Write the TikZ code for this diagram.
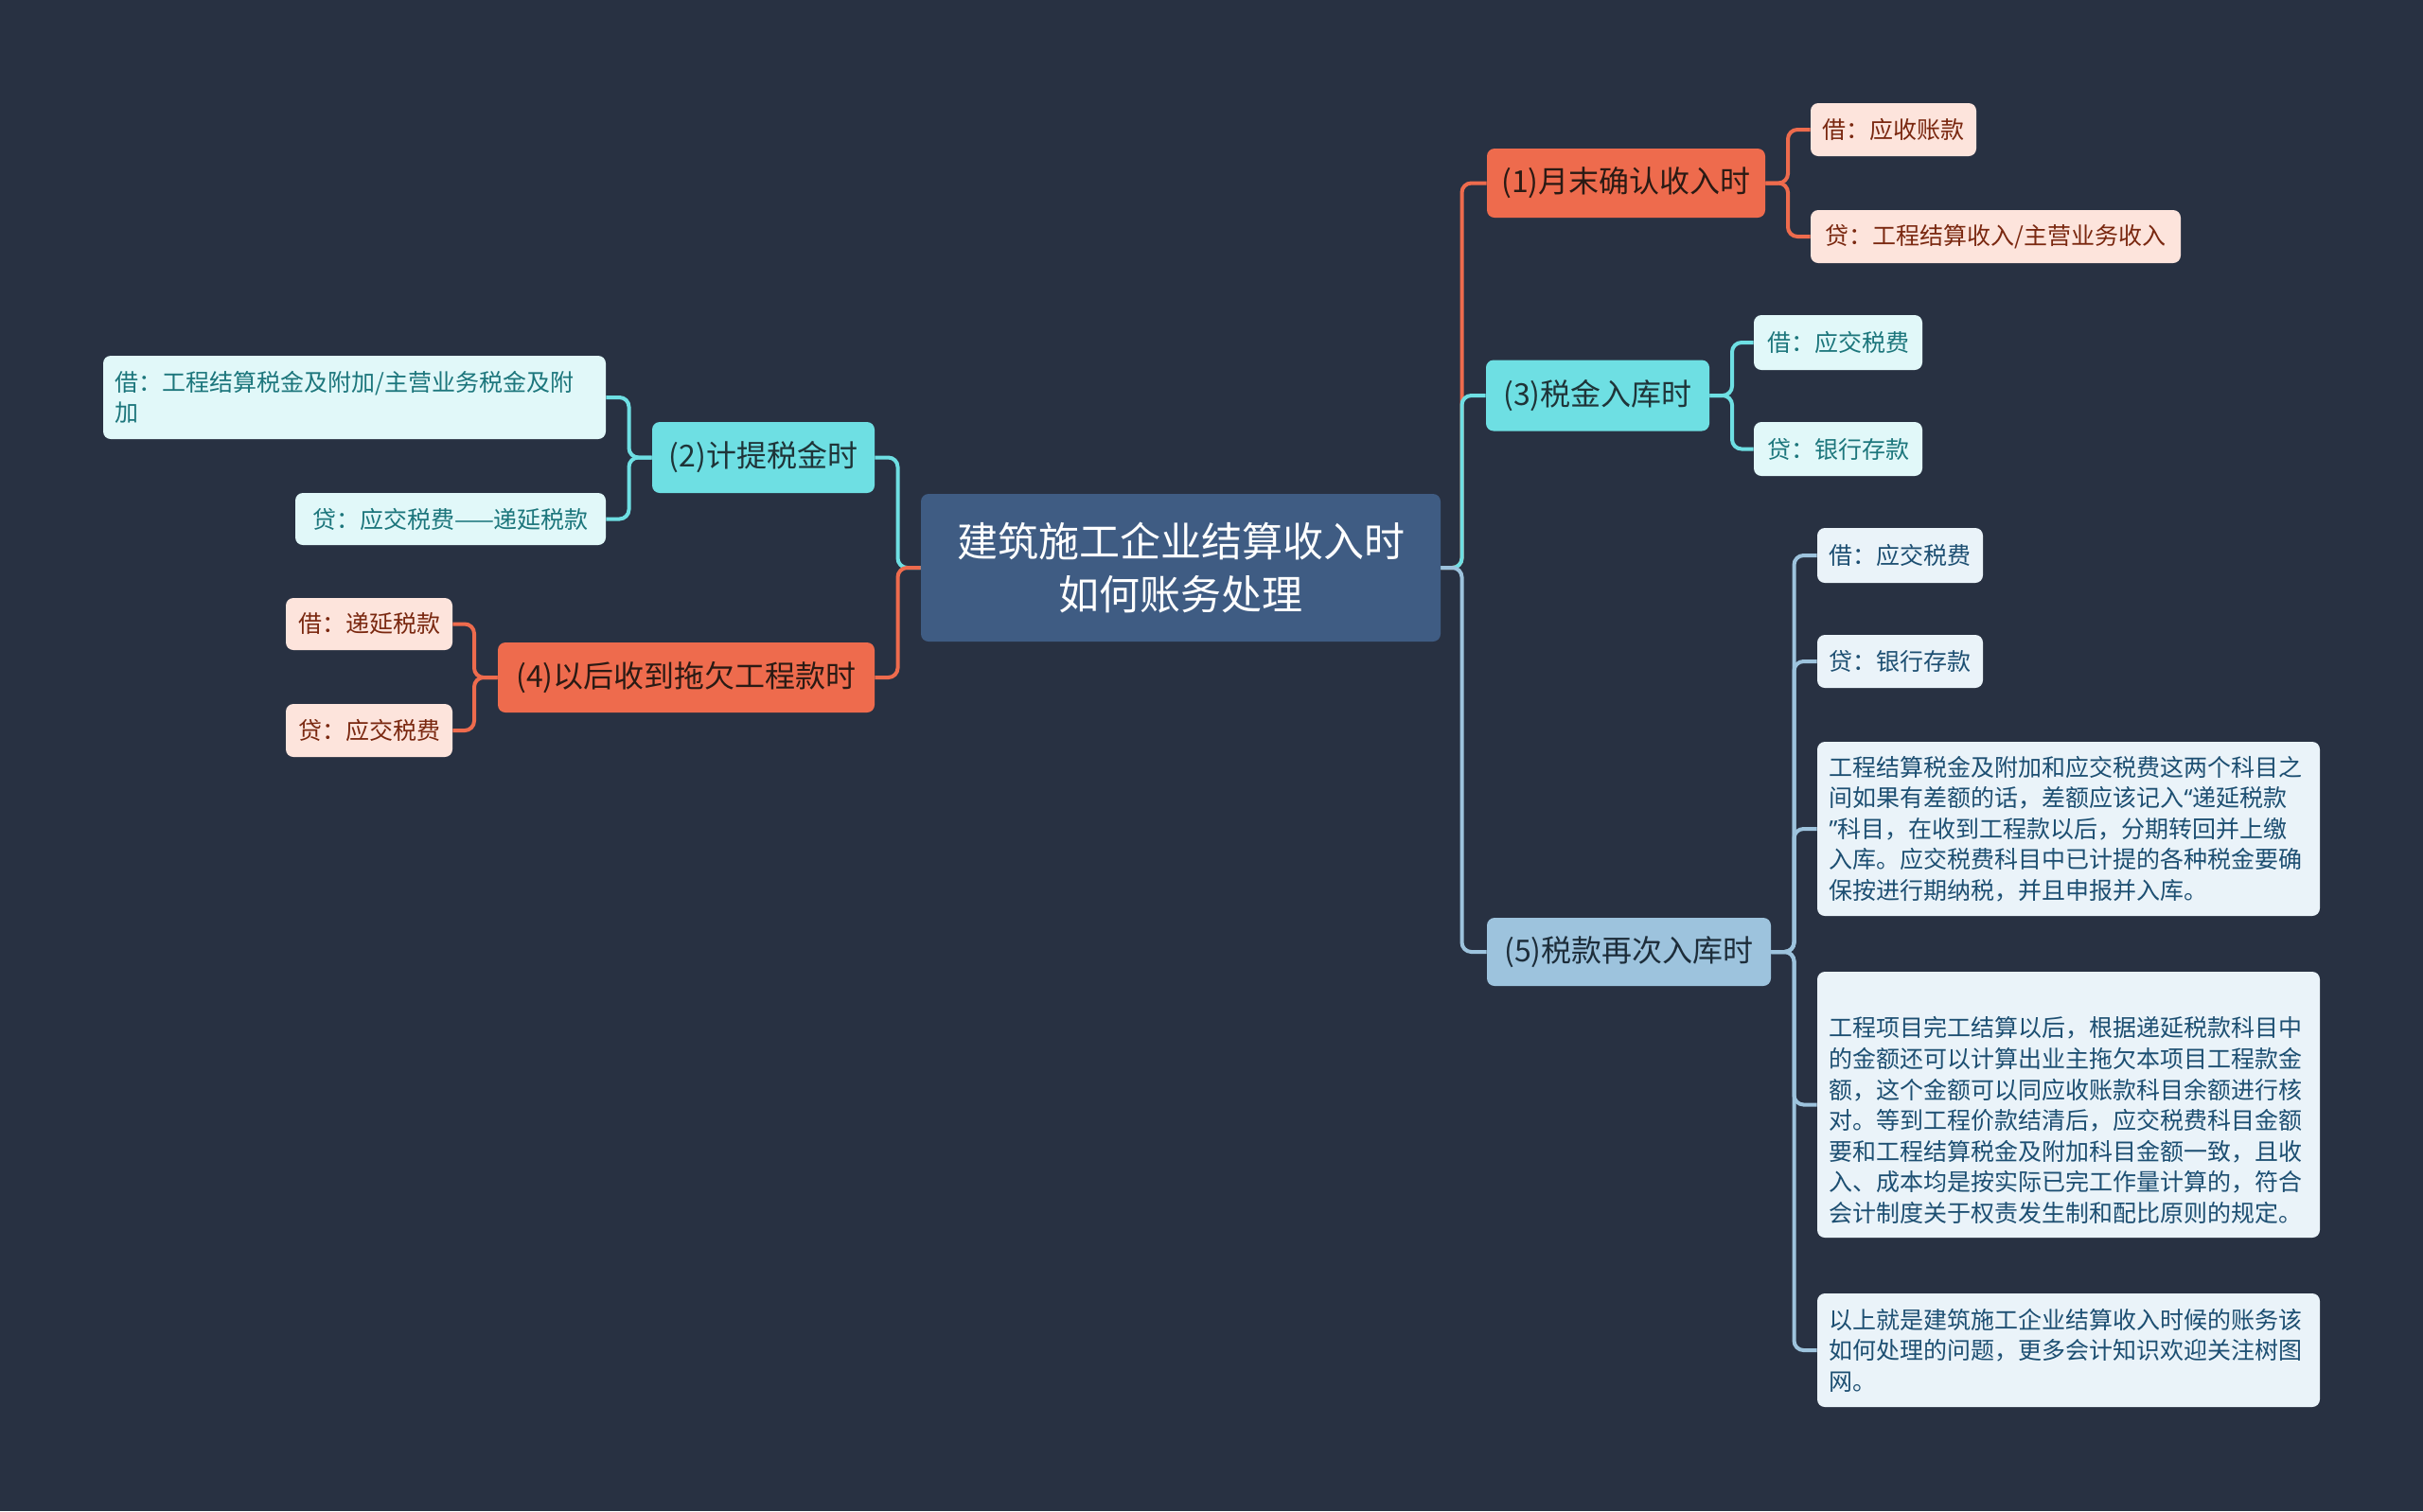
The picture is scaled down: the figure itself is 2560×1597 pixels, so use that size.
\documentclass[tikz,border=0pt]{standalone}
\usepackage{fontspec}
\setmainfont{Noto Sans CJK SC}
\newfontfamily\latinq{Noto Sans}
\definecolor{bgc}{HTML}{283142}
\definecolor{rootc}{HTML}{3F5C83}
\definecolor{coral}{HTML}{EE6B4D}
\definecolor{cyanc}{HTML}{6EDFE3}
\definecolor{bluec}{HTML}{9DC3DD}
\definecolor{coralleaf}{HTML}{FDE4DC}
\definecolor{cyanleaf}{HTML}{E1F8F9}
\definecolor{blueleaf}{HTML}{EAF3F9}
\definecolor{coraltxt}{HTML}{7A2810}
\definecolor{cyantxt}{HTML}{1C767C}
\definecolor{bluetxt}{HTML}{1D4F72}
\definecolor{darktxt}{HTML}{2A1A14}
\definecolor{darkcyantxt}{HTML}{1F3438}
\definecolor{darkbluetxt}{HTML}{1D2D3A}
\tikzset{
  box/.style={rounded corners=4pt, inner sep=0pt, anchor=center},
  rootbox/.style={box, fill=rootc, text=white, align=center,
    font=\fontsize{21.5}{27.8}\selectfont},
  lvlone/.style={box, font=\fontsize{16}{20}\selectfont},
  lvlcoral/.style={lvlone, fill=coral, text=darktxt},
  lvlcyan/.style={lvlone, fill=cyanc, text=darkcyantxt},
  lvlblue/.style={lvlone, fill=bluec, text=darkbluetxt},
  leaf/.style={box, minimum height=28pt, font=\fontsize{12.5}{16.3}\selectfont},
  leafcoral/.style={leaf, fill=coralleaf, text=coraltxt},
  leafcyan/.style={leaf, fill=cyanleaf, text=cyantxt},
  leafblue/.style={leaf, fill=blueleaf, text=bluetxt},
  longtext/.style={text width=253pt, align=left},
  conn/.style={line width=2pt, rounded corners=5pt},
}
\begin{document}
\begin{tikzpicture}[x=0.5pt,y=-0.5pt]
\fill[bgc] (0,0) rectangle (2560,1597);
\path[use as bounding box] (0,0) rectangle (2560,1597);

% root
\node[rootbox, minimum width=274.5pt, minimum height=78pt] (root) at (1247.5,600)
  {建筑施工企业结算收入时\\如何账务处理};

% level one
\node[lvlcoral, minimum width=147pt, minimum height=36.5pt] (n1) at (1718,193.5) {(1)月末确认收入时};
\node[lvlcyan, minimum width=118pt, minimum height=37.5pt] (n3) at (1688,418) {(3)税金入库时};
\node[lvlblue, minimum width=150pt, minimum height=36pt] (n5) at (1721,1006) {(5)税款再次入库时};
\node[lvlcyan, minimum width=117.5pt, minimum height=37.5pt] (n2) at (806.5,483.5) {(2)计提税金时};
\node[lvlcoral, minimum width=199pt, minimum height=37pt] (n4) at (725,716) {(4)以后收到拖欠工程款时};

% leaves of (1)
\node[leafcoral, minimum width=87.5pt] (n1a) at (2000.5,137) {借：应收账款};
\node[leafcoral, minimum width=195.5pt] (n1b) at (2108.5,250) {贷：工程结算收入/主营业务收入};

% leaves of (3)
\node[leafcyan, minimum width=89pt, minimum height=29pt] (n3a) at (1942,362) {借：应交税费};
\node[leafcyan, minimum width=89pt, minimum height=28.5pt] (n3b) at (1942,474.5) {贷：银行存款};

% leaves of (5)
\node[leafblue, minimum width=87.5pt, minimum height=29pt] (n5a) at (2007.5,587) {借：应交税费};
\node[leafblue, minimum width=87.5pt] (n5b) at (2007.5,699) {贷：银行存款};
\node[leafblue, longtext, minimum width=265.5pt, minimum height=92pt] (n5c) at (2185.5,876)
  {工程结算税金及附加和应交税费这两个科目之\\间如果有差额的话，差额应该记入{\latinq “}递延税款\\{\latinq ”}科目，在收到工程款以后，分期转回并上缴\\入库。应交税费科目中已计提的各种税金要确\\保按进行期纳税，并且申报并入库。};
\node[leafblue, longtext, minimum width=265.5pt, minimum height=140.5pt] (n5d) at (2185.5,1167.5)
  {\mbox{}\\[11pt]工程项目完工结算以后，根据递延税款科目中\\的金额还可以计算出业主拖欠本项目工程款金\\额，这个金额可以同应收账款科目余额进行核\\对。等到工程价款结清后，应交税费科目金额\\要和工程结算税金及附加科目金额一致，且收\\入、成本均是按实际已完工作量计算的，符合\\会计制度关于权责发生制和配比原则的规定。};
\node[leafblue, longtext, minimum width=265.5pt, minimum height=60pt] (n5e) at (2185.5,1427)
  {以上就是建筑施工企业结算收入时候的账务该\\如何处理的问题，更多会计知识欢迎关注树图\\网。};

% leaves of (2)
\node[leafcyan, longtext, minimum width=265.5pt, minimum height=44pt] (n2a) at (374.5,420)
  {借：工程结算税金及附加/主营业务税金及附\\加};
\node[leafcyan, minimum width=164pt, minimum height=27.5pt] (n2b) at (476,548.5) {贷：应交税费——递延税款};

% leaves of (4)
\node[leafcoral, minimum width=88pt, minimum height=27.5pt] (n4a) at (390,659.5) {借：递延税款};
\node[leafcoral, minimum width=88pt] (n4b) at (390,772) {贷：应交税费};

% connectors root -> right
\draw[conn, coral] (root.east) -- (1544.5,600) |- (n1.west);
\draw[conn, cyanc] (root.east) -- (1544.5,600) |- (n3.west);
\draw[conn, bluec] (root.east) -- (1544.5,600) |- (n5.west);
% root -> left
\draw[conn, cyanc] (root.west) -- (948.5,600) |- (n2.east);
\draw[conn, coral] (root.west) -- (948.5,600) |- (n4.east);

% (1) children
\draw[conn, coral] (n1.east) -- (1889,193.5) |- (n1a.west);
\draw[conn, coral] (n1.east) -- (1889,193.5) |- (n1b.west);
% (3) children
\draw[conn, cyanc] (n3.east) -- (1830,418) |- (n3a.west);
\draw[conn, cyanc] (n3.east) -- (1830,418) |- (n3b.west);
% (5) children
\draw[conn, bluec] (n5.east) -- (1895.5,1006) |- (n5a.west);
\draw[conn, bluec] (n5.east) -- (1895.5,1006) |- (n5b.west);
\draw[conn, bluec] (n5.east) -- (1895.5,1006) |- (n5c.west);
\draw[conn, bluec] (n5.east) -- (1895.5,1006) |- (n5d.west);
\draw[conn, bluec] (n5.east) -- (1895.5,1006) |- (n5e.west);
% (2) children
\draw[conn, cyanc] (n2.west) -- (664.5,483.5) |- (n2a.east);
\draw[conn, cyanc] (n2.west) -- (664.5,483.5) |- (n2b.east);
% (4) children
\draw[conn, coral] (n4.west) -- (501,716) |- (n4a.east);
\draw[conn, coral] (n4.west) -- (501,716) |- (n4b.east);
\end{tikzpicture}
\end{document}
